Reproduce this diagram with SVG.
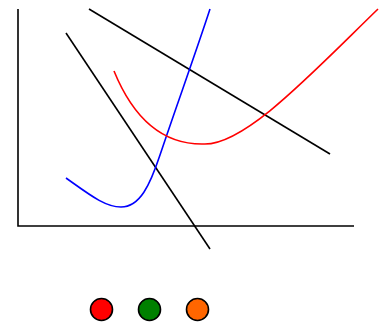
<svg xmlns="http://www.w3.org/2000/svg" width="387" height="325" viewBox="0 0 387 325">
<style>
.ln{fill:none;stroke-width:1.6;stroke-linecap:butt}
.k{stroke:#000}
.dot{stroke:#000;stroke-width:1.6}
</style>
<rect width="387" height="325" fill="#fff"/>
<g id="axes">
<path class="ln k" d="M18,9 V226 H354"/>
</g>
<g id="connectors">
<path class="ln k" d="M89,9 L330,154"/>
<path class="ln k" d="M66,33 L210,249"/>
<path class="ln" stroke="#0000ff" d="M66,178 C90,195 105,207 121,207 C140,207 150,185 160,155 C175,110 195,55 210,9"/>
<path class="ln" stroke="#ff0000" d="M114,71 C132,115 160,145 204,144 C245,145 310,75 378,9"/>
</g>
<g id="legend">
<circle id="c-red" class="dot" cx="101.5" cy="309.5" r="11" fill="#ff0000"/>
<circle id="c-green" class="dot" cx="149.5" cy="309.5" r="11" fill="#008000"/>
<circle id="c-orange" class="dot" cx="197.5" cy="309.5" r="11" fill="#ff6600"/>
</g>
</svg>
